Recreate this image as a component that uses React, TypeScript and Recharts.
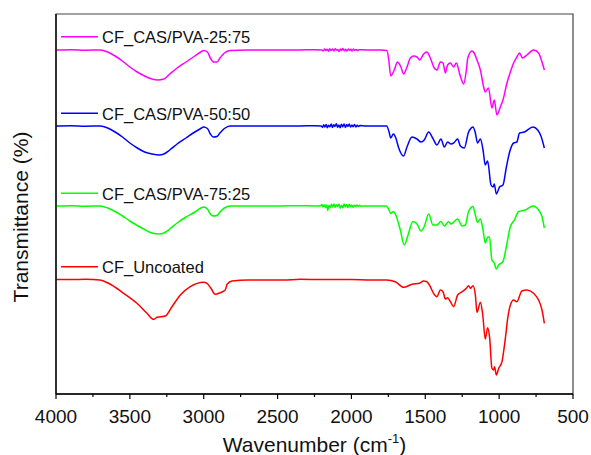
import React from 'react';
import { LineChart, Line, XAxis, YAxis, ReferenceArea, Legend } from 'recharts';

type Pt = [number, number];

const FONT = '"Liberation Sans", Arial, sans-serif';

const seriesNames = ['CF_CAS/PVA-25:75', 'CF_CAS/PVA-50:50', 'CF_CAS/PVA-75:25', 'CF_Uncoated'];
const seriesColors = ['#ff00ff', '#0000ff', '#00ff00', '#ff0000'];

const xTicks = [4000, 3750, 3500, 3250, 3000, 2750, 2500, 2250, 2000, 1750, 1500, 1250, 1000, 750, 500];

// transmittance, arbitrary units (curves stacked)
const pva2575: Pt[] = [
  [4000, 344], [3900, 344.3], [3800, 343.8], [3700, 344], [3650, 342],
  [3600, 338], [3550, 333], [3500, 327], [3450, 322], [3400, 318], [3350, 315], [3310, 314],
  [3270, 315], [3230, 320], [3180, 326], [3120, 332], [3060, 338], [3020, 342], [3000, 343.5],
  [2975, 342], [2955, 336], [2935, 332], [2910, 332], [2890, 336], [2860, 341], [2820, 343.5],
  [2700, 344], [2500, 344], [2350, 344], [2250, 344.3],
  [2200, 344], [2190, 343], [2182, 345], [2172, 343.5], [2165, 344.8], [2155, 342.8], [2148, 345.2],
  [2140, 343.6], [2128, 344.9], [2120, 343], [2110, 345.3], [2100, 343.8], [2092, 344.6], [2084, 342.6],
  [2075, 345], [2066, 343.4], [2058, 345.4], [2048, 343.2], [2040, 344.7], [2030, 342.9], [2022, 345.1],
  [2012, 343.5], [2004, 344.8], [1995, 343], [1986, 345], [1978, 343.7], [1968, 344.6], [1958, 343.4],
  [1948, 344.3],
  [1900, 344], [1800, 344], [1760, 343.5], [1747, 334], [1734, 318], [1710, 324], [1688, 332],
  [1665, 327], [1647, 320], [1624, 327], [1601, 336], [1579, 338], [1556, 337], [1539, 334],
  [1511, 340], [1489, 342], [1466, 336], [1439, 326], [1421, 324], [1398, 332], [1380, 331],
  [1364, 321], [1349, 329], [1330, 331], [1308, 327], [1290, 331], [1263, 318], [1240, 310],
  [1222, 324], [1212, 336], [1185, 343], [1169, 341], [1150, 334], [1127, 324], [1105, 307],
  [1094, 302], [1072, 306], [1049, 286], [1033, 294], [1015, 279], [992, 287], [974, 294],
  [947, 311], [924, 322], [902, 331], [880, 337], [862, 341], [842, 336], [812, 339],
  [767, 344], [733, 341], [710, 332], [694, 324],
];

const pva5050: Pt[] = [
  [4000, 268], [3900, 268.3], [3800, 267.8], [3700, 268], [3650, 266],
  [3600, 262], [3550, 257], [3500, 251], [3450, 246], [3400, 242], [3350, 240], [3300, 239],
  [3270, 240], [3230, 244], [3180, 250], [3120, 256], [3060, 262], [3020, 265.5], [3000, 267],
  [2975, 265.5], [2955, 260], [2935, 257], [2910, 257.5], [2890, 261], [2860, 265.5], [2820, 268],
  [2700, 268], [2500, 268], [2350, 268], [2250, 268.3],
  [2205, 268], [2196, 266.6], [2188, 269.2], [2180, 267], [2171, 269.6], [2163, 266.2], [2155, 268.8],
  [2146, 267.2], [2137, 270], [2128, 266.5], [2120, 269.3], [2111, 267.6], [2102, 270.2], [2094, 266.8],
  [2085, 268.9], [2076, 266.3], [2068, 269.7], [2059, 267.1], [2050, 270.1], [2041, 266.6], [2032, 269.4],
  [2024, 267.5], [2015, 269.9], [2006, 266.9], [1997, 269], [1988, 267.2], [1979, 269.6], [1970, 267],
  [1961, 268.8], [1952, 267.4], [1943, 268.5],
  [1900, 268], [1800, 268], [1762, 268], [1745, 262], [1734, 256], [1716, 260], [1697, 255],
  [1682, 247], [1647, 238], [1624, 247], [1590, 257], [1556, 255], [1529, 252], [1507, 254],
  [1477, 262], [1450, 256], [1421, 249], [1394, 255], [1371, 247], [1349, 252], [1326, 250],
  [1308, 251], [1281, 255], [1263, 248], [1236, 246], [1207, 262], [1195, 265], [1177, 267],
  [1161, 261], [1146, 251], [1127, 255], [1109, 244], [1094, 229], [1078, 233], [1055, 209],
  [1041, 207], [1033, 210], [1019, 200], [997, 207], [974, 209], [951, 227], [929, 242],
  [902, 251], [880, 252], [862, 261], [830, 262], [771, 267], [739, 264], [717, 258], [694, 246],
];

const pva7525: Pt[] = [
  [4000, 188], [3900, 188.3], [3800, 187.8], [3700, 188], [3650, 186],
  [3600, 182.5], [3550, 178], [3500, 173], [3450, 168.5], [3400, 164.5], [3350, 161], [3300, 160],
  [3270, 161], [3230, 165], [3180, 171], [3120, 177], [3060, 182], [3020, 186], [3000, 187],
  [2975, 185], [2955, 180], [2935, 178], [2910, 178.5], [2890, 182], [2860, 186], [2820, 188],
  [2700, 188], [2500, 188], [2350, 188.3], [2250, 188],
  [2210, 188.2], [2200, 189.6], [2192, 187], [2184, 189.3], [2176, 186.8], [2168, 188.9], [2160, 183.5],
  [2152, 188.6], [2144, 186.4], [2135, 189.8], [2127, 187.1], [2118, 190], [2110, 186.6], [2101, 189.2],
  [2093, 187.5], [2084, 189.9], [2076, 185.8], [2067, 188.7], [2058, 186.2], [2050, 190.1], [2041, 186.9],
  [2032, 189.4], [2024, 186.3], [2015, 189.7], [2006, 187.2], [1998, 189.1], [1989, 186.7], [1980, 188.8],
  [1971, 187.4], [1962, 189], [1953, 187.6], [1944, 188.7], [1935, 187.8],
  [1900, 188], [1800, 188], [1765, 188], [1745, 184], [1734, 180.5], [1716, 182.5], [1697, 178],
  [1669, 164], [1642, 149], [1620, 157.5], [1583, 172.5], [1556, 170], [1529, 163], [1507, 167.5],
  [1477, 180], [1448, 169], [1421, 169], [1394, 172.5], [1371, 168], [1342, 172.5], [1326, 170],
  [1281, 175], [1251, 168], [1229, 169], [1207, 182.5], [1177, 187.5], [1161, 179], [1146, 171.5],
  [1127, 175], [1109, 164], [1094, 151], [1078, 157], [1065, 157], [1049, 134], [1033, 131],
  [1019, 125], [1003, 129], [974, 132.5], [951, 147.5], [924, 167.5], [897, 174], [868, 182.5],
  [823, 184], [771, 188], [733, 184], [710, 177.5], [694, 166],
];

const uncoated: Pt[] = [
  [4000, 114.5], [3900, 114.5], [3800, 114.7], [3703, 114], [3644, 110.7], [3542, 100.7],
  [3452, 90.7], [3384, 80.7], [3339, 74.7], [3316, 76.7], [3260, 78], [3215, 87.3], [3158, 99],
  [3091, 107.3], [3001, 111.7], [2978, 110.7], [2951, 105.7], [2922, 99.7], [2888, 101.3],
  [2854, 104], [2842, 109.7], [2808, 113], [2700, 114], [2459, 114], [2346, 114.7], [2200, 114.5],
  [2000, 114.5], [1873, 114], [1761, 114],
  [1703, 112.3], [1647, 106.7], [1590, 109.7], [1539, 110.7], [1512, 113], [1489, 112.3],
  [1466, 107.3], [1444, 100.7], [1421, 97.3], [1398, 104], [1380, 102.3], [1364, 95], [1349, 96.3],
  [1330, 92.3], [1308, 87.3], [1281, 99], [1251, 102.3], [1222, 105.7], [1207, 108.3], [1195, 105.7],
  [1177, 108.3], [1161, 99], [1150, 81.7], [1127, 91.7], [1111, 79], [1094, 55], [1078, 66.3],
  [1064, 55.7], [1049, 25.7], [1038, 24], [1031, 27.3], [1019, 19], [1003, 25.7], [981, 32.3],
  [958, 55.7], [942, 75.7], [924, 89], [902, 94], [880, 92.3], [846, 103], [812, 104],
  [767, 100.7], [733, 94], [710, 84], [694, 70.7],
];

const allSeries = [pva2575, pva5050, pva7525, uncoated];
const toRows = (pts: Pt[]) => pts.map(([wn, t]) => ({ wn, t }));

const legendRowY = [36.7, 113.3, 193.3, 266.7];

const XTick = (props: any) => {
  const { x, y, payload } = props;
  const major = payload.value % 500 === 0;
  return (
    <g>
      <line x1={x} x2={x} y1={y} y2={y + (major ? 5 : 3)} stroke="#000" strokeWidth={1.2} />
      {major && (
        <text x={x} y={y + 29} textAnchor="middle" fontSize={19} fill="#111" fontFamily={FONT}>
          {payload.value}
        </text>
      )}
    </g>
  );
};

const XTitle = (props: any) => {
  const { viewBox } = props;
  const cx = viewBox.x + viewBox.width / 2;
  return (
    <text x={cx} y={viewBox.y + 58} textAnchor="middle" fontSize={21} fill="#111" fontFamily={FONT}>
      Wavenumber (cm
      <tspan fontSize={13} dy={-9}>-1</tspan>
      <tspan dy={9}>)</tspan>
    </text>
  );
};

const YTitle = () => (
  <text
    x={28}
    y={217}
    transform="rotate(-90, 28, 217)"
    textAnchor="middle"
    fontSize={21}
    fill="#111"
    fontFamily={FONT}
  >
    Transmittance (%)
  </text>
);

const LegendBox = (props: any) => {
  const items = props.payload || [];
  return (
    <svg width={591} height={455} style={{ position: 'absolute', left: 0, top: 0 }}>
      {items.map((it: any, i: number) => (
        <g key={it.value}>
          <line x1={61} x2={98} y1={legendRowY[i]} y2={legendRowY[i]} stroke={it.color} strokeWidth={1.6} />
          <text x={102} y={legendRowY[i] + 6.3} fontSize={16.5} fill="#111" fontFamily={FONT}>
            {it.value}
          </text>
        </g>
      ))}
    </svg>
  );
};

export default function App() {
  return (
    <div style={{ position: 'absolute', left: 0, top: 0, background: '#fff' }}>
      <LineChart width={591} height={455} margin={{ top: 14, right: 18, bottom: 0, left: 0 }}>
        <XAxis
          dataKey="wn"
          type="number"
          domain={[500, 4000]}
          reversed
          ticks={xTicks}
          interval={0}
          tickSize={0}
          tickMargin={0}
          tick={<XTick />}
          axisLine={{ stroke: '#000', strokeWidth: 1.3 }}
          height={61}
          allowDuplicatedCategory={false}
          label={<XTitle />}
        />
        <YAxis
          type="number"
          domain={[0, 380]}
          width={56}
          tick={false}
          tickLine={false}
          axisLine={{ stroke: '#000', strokeWidth: 1.3 }}
          label={<YTitle />}
        />
        <ReferenceArea
          x1={500}
          x2={4000}
          y1={0}
          y2={380}
          fill="none"
          stroke="#444"
          strokeWidth={1.2}
          ifOverflow="visible"
        />
        {allSeries.map((pts, i) => (
          <Line
            key={seriesNames[i]}
            data={toRows(pts)}
            dataKey="t"
            name={seriesNames[i]}
            stroke={seriesColors[i]}
            strokeWidth={1.5}
            type="monotone"
            dot={false}
            activeDot={false}
            isAnimationActive={false}
          />
        ))}
        <Legend
          layout="vertical"
          align="center"
          verticalAlign="middle"
          wrapperStyle={{ left: 0, top: 0, width: 591, height: 455, pointerEvents: 'none' }}
          content={<LegendBox />}
        />
      </LineChart>
    </div>
  );
}
